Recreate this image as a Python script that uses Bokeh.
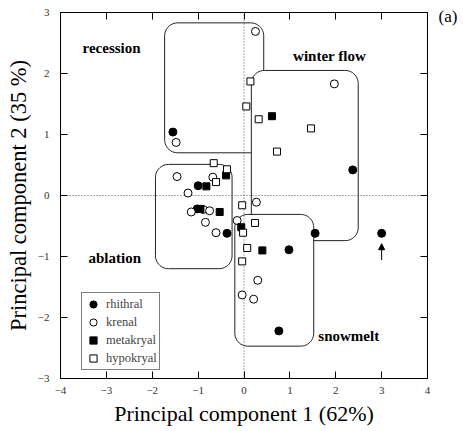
import numpy as np
from bokeh.plotting import figure
from bokeh.models import (Range1d, LinearAxis, FixedTicker, Label, Arrow, NormalHead,
                          Legend, LegendItem)
from bokeh.core.properties import value
from bokeh.embed import file_html
from bokeh.resources import INLINE

# ---------------- data ----------------
rhithral_x = [-1.55, 2.37, 3.00, 1.55, 0.98, 0.76, -0.37, -1.00, -1.02]
rhithral_y = [1.04, 0.42, -0.62, -0.62, -0.89, -2.22, -0.62, 0.16, -0.22]

krenal_x = [-1.48, 0.25, 1.97, -1.46, -0.68, -1.22, -1.15, -0.89, -0.75, -0.84, -0.61, 0.27, -0.15, 0.30, -0.04, 0.21]
krenal_y = [0.87, 2.69, 1.83, 0.31, 0.30, 0.04, -0.27, -0.23, -0.25, -0.44, -0.61, -0.11, -0.41, -1.39, -1.63, -1.70]

metakryal_x = [0.61, -0.39, -0.82, -0.95, -0.53, -0.06, 0.40]
metakryal_y = [1.30, 0.33, 0.15, -0.22, -0.27, -0.52, -0.90]

hypokryal_x = [0.14, 0.05, 0.32, 1.46, 0.72, -0.66, -0.37, -0.61, -0.04, 0.24, -0.02, 0.07, -0.04]
hypokryal_y = [1.87, 1.46, 1.25, 1.10, 0.72, 0.53, 0.43, 0.22, -0.16, -0.45, -0.61, -0.86, -1.08]

# group outlines (x0, x1, y0, y1) and their labels
group_names = ["recession", "winter flow", "snowmelt", "ablation"]
group_boxes = [(-1.73, 0.43, 0.70, 2.83),
               (0.16, 2.49, -0.74, 2.05),
               (-0.20, 1.52, -2.47, -0.31),
               (-1.93, -0.26, -1.20, 0.51)]
label_x = [-3.52, 1.07, 1.62, -3.39]
label_y = [2.41, 2.28, -2.30, -1.03]

arrow_x = 3.0
arrow_y = (-1.06, -0.79)

x_ticks = [-4, -3, -2, -1, 0, 1, 2, 3, 4]
y_ticks = [-3, -2, -1, 0, 1, 2, 3]

# ---------------- figure ----------------
XR = (-4, 4)
YR = (-3, 3)
FW, FH = 367, 366
FONT = "Liberation Serif"

p = figure(width=463, height=431, output_backend="svg", toolbar_location=None,
           x_range=Range1d(*XR), y_range=Range1d(*YR),
           min_border_left=60, min_border_top=12, min_border_right=36, min_border_bottom=53)
p.xgrid.visible = False
p.ygrid.visible = False
p.outline_line_color = "black"
p.outline_line_width = 1
p.background_fill_color = "white"
p.border_fill_color = "white"

def style_axis(ax, ticks, show_labels):
    ax.ticker = FixedTicker(ticks=ticks)
    ax.major_tick_in = 7
    ax.major_tick_out = 0
    ax.minor_tick_line_color = None
    ax.axis_line_color = "black"
    ax.major_tick_line_color = "black"
    ax.major_label_text_font = FONT
    ax.major_label_text_color = "#333333"
    ax.major_label_text_font_size = "11px"
    if not show_labels:
        ax.major_label_overrides = {t: "" for t in ticks}
        ax.major_label_standoff = 0

style_axis(p.xaxis[0], x_ticks, True)
style_axis(p.yaxis[0], y_ticks, True)
p.xaxis[0].major_label_standoff = 8
p.yaxis[0].major_label_standoff = 11
p.xaxis[0].axis_label = "Principal component 1 (62%)"
p.yaxis[0].axis_label = "Principal component 2 (35 %)"
for ax, fs in ((p.xaxis[0], "22px"), (p.yaxis[0], "22.5px")):
    ax.axis_label_text_font = FONT
    ax.axis_label_text_font_size = fs
    ax.axis_label_text_font_style = "normal"
    ax.axis_label_text_color = "black"
    ax.axis_label_standoff = 4

top = LinearAxis()
style_axis(top, x_ticks, False)
p.add_layout(top, "above")
right = LinearAxis()
style_axis(right, y_ticks, False)
p.add_layout(right, "right")

# rounded group boxes
sx = FW / (XR[1] - XR[0])
sy = FH / (YR[1] - YR[0])

def rounded(x0, x1, y0, y1, r=13):
    rx, ry = r / sx, r / sy
    t = np.linspace(0, np.pi / 2, 12)
    xs, ys = [], []
    corners = [(x1 - rx, y1 - ry, 0), (x0 + rx, y1 - ry, np.pi / 2),
               (x0 + rx, y0 + ry, np.pi), (x1 - rx, y0 + ry, 1.5 * np.pi)]
    for cx, cy, a0 in corners:
        xs.extend(cx + rx * np.cos(a0 + t))
        ys.extend(cy + ry * np.sin(a0 + t))
    return xs, ys

for (x0, x1, y0, y1) in group_boxes:
    bx, by = rounded(x0, x1, y0, y1)
    p.patch(bx, by, fill_color="white", line_color="#222222", line_width=1)

# dotted zero lines
p.segment(x0=[XR[0], 0], y0=[0, YR[0]], x1=[XR[1], 0], y1=[0, YR[1]],
          line_color="#555555", line_width=1, line_dash="1 2")

# group labels
p.text(x=label_x, y=label_y, text=group_names, text_font=value(FONT),
       text_font_size="15px", text_font_style="bold", text_baseline="middle",
       text_color="black")

# points
r1 = p.scatter(rhithral_x, rhithral_y, marker="circle", size=8, fill_color="black", line_color="black")
r2 = p.scatter(krenal_x, krenal_y, marker="circle", size=8, fill_color="white", line_color="black", line_width=1)
r3 = p.scatter(metakryal_x, metakryal_y, marker="square", size=7, fill_color="black", line_color="black")
r4 = p.scatter(hypokryal_x, hypokryal_y, marker="square", size=7, fill_color="white", line_color="black", line_width=1)

# arrow
p.add_layout(Arrow(end=NormalHead(size=6, fill_color="black", line_color="black"),
                   x_start=arrow_x, y_start=arrow_y[0], x_end=arrow_x, y_end=arrow_y[1],
                   line_color="black", line_width=1))

# panel tag (placed in the right side panel so it is not clipped to the frame)
p.add_layout(Label(x=4.24, y=2.94, text="(a)", text_font=FONT, text_font_size="17px",
                   text_baseline="middle", text_color="black"), "right")

legend = Legend(items=[LegendItem(label="rhithral", renderers=[r1]),
                       LegendItem(label="krenal", renderers=[r2]),
                       LegendItem(label="metakryal", renderers=[r3]),
                       LegendItem(label="hypokryal", renderers=[r4])],
                location=(21, 8), label_text_font=FONT, label_text_font_size="12.5px",
                glyph_width=18, glyph_height=18, label_height=18, label_standoff=4,
                spacing=0, padding=2, margin=0, border_line_color="black",
                border_line_width=1, background_fill_color="white", background_fill_alpha=1)
p.add_layout(legend, "center")

open("out.html", "w").write(file_html(p, INLINE))
